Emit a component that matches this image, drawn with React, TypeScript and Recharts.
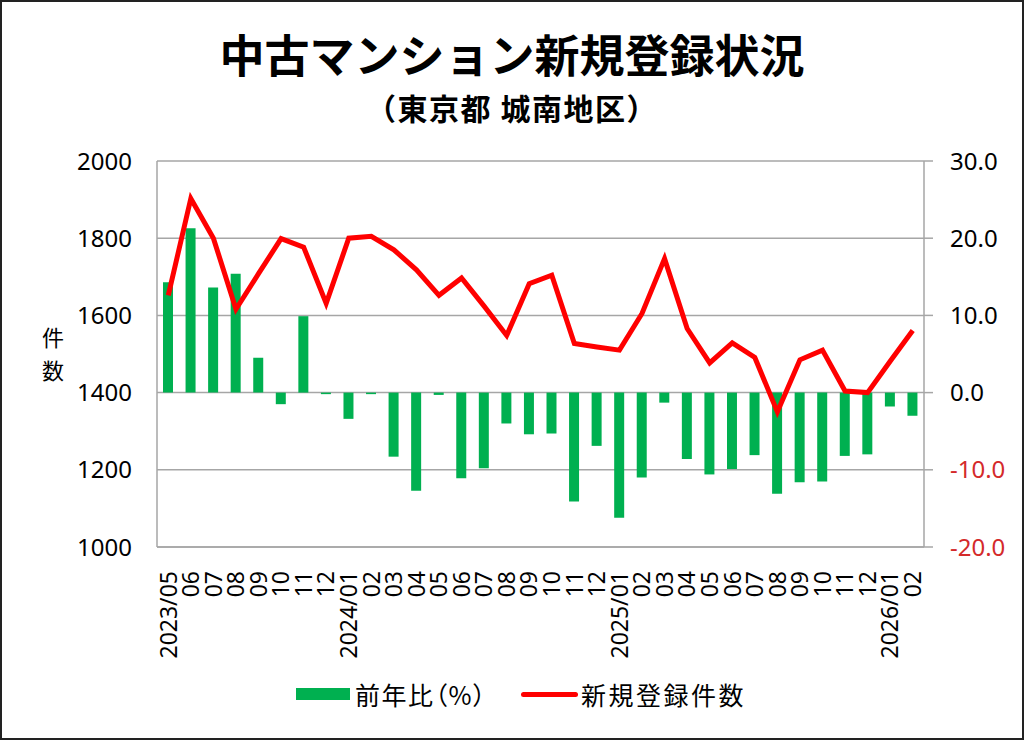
import { Bar, CartesianGrid, ComposedChart, Legend, Line, XAxis, YAxis } from "recharts"

const months = [
  "2023/05", "2023/06", "2023/07", "2023/08", "2023/09", "2023/10", "2023/11", "2023/12",
  "2024/01", "2024/02", "2024/03", "2024/04", "2024/05", "2024/06", "2024/07", "2024/08",
  "2024/09", "2024/10", "2024/11", "2024/12", "2025/01", "2025/02", "2025/03", "2025/04",
  "2025/05", "2025/06", "2025/07", "2025/08", "2025/09", "2025/10", "2025/11", "2025/12",
  "2026/01", "2026/02",
]

const tickLabels = [
  "2023/05", "06", "07", "08", "09", "10", "11", "12",
  "2024/01", "02", "03", "04", "05", "06", "07", "08",
  "09", "10", "11", "12", "2025/01", "02", "03", "04",
  "05", "06", "07", "08", "09", "10", "11", "12",
  "2026/01", "02",
]

// 新規登録件数 (left axis)
const newListings = [
  1652, 1903, 1800, 1616, 1708, 1799, 1777, 1631,
  1800, 1805, 1770, 1718, 1652, 1697, 1624, 1548,
  1682, 1704, 1527, 1518, 1510, 1605, 1747, 1566,
  1477, 1529, 1491, 1350, 1485, 1510, 1404, 1400,
  1481, 1561,
]

// 前年比(%) (right axis)
const yoy = [
  14.3, 21.3, 13.6, 15.4, 4.5, -1.5, 9.9, -0.2,
  -3.4, -0.2, -8.3, -12.7, -0.3, -11.1, -9.8, -4.0,
  -5.4, -5.3, -14.1, -6.9, -16.2, -11.0, -1.3, -8.6,
  -10.6, -9.9, -8.1, -13.1, -11.6, -11.5, -8.2, -8.0,
  -1.8, -3.0,
]

const leftTicks = [1000, 1200, 1400, 1600, 1800, 2000]
const rightTicks = [-20, -10, 0, 10, 20, 30]

const data = months.map((m, i) => ({
  month: m,
  label: tickLabels[i],
  count: newListings[i],
  yoy: yoy[i],
}))

const FONT = "'Noto Sans', 'Noto Sans CJK JP', sans-serif"
const CJK = "'Noto Sans CJK JP', 'Noto Sans', sans-serif"
const GREEN = "#00b050"
const RED = "#ff0000"
const GRID = "#a6a6a6"

function MonthTick(props: any) {
  const { x, y, index } = props
  return (
    <text
      x={x}
      y={y + 16}
      transform={`rotate(-90, ${x}, ${y + 16})`}
      textAnchor="end"
      dy="0.36em"
      fontSize={23}
      fontFamily={FONT}
      fill="#000"
    >
      {tickLabels[index]}
    </text>
  )
}

function RightTick(props: any) {
  const { x, y, payload } = props
  const v = payload.value as number
  return (
    <text
      x={x}
      y={y}
      dy="0.36em"
      textAnchor="start"
      fontSize={24}
      fontFamily={FONT}
      fill={v < 0 ? "#d42a2a" : "#000"}
    >
      {v.toFixed(1)}
    </text>
  )
}

function LegendBox() {
  return (
    <div
      style={{
        display: "flex",
        alignItems: "center",
        paddingLeft: 296,
        height: 32,
        fontFamily: CJK,
        fontSize: 25,
        letterSpacing: 1.5,
        fontFeatureSettings: '"palt"',
        color: "#000",
      }}
    >
      <span style={{ display: "inline-block", width: 54, height: 12, background: GREEN, marginRight: 5 }} />
      <span>前年比（%）</span>
      <span
        style={{
          display: "inline-block",
          width: 57,
          height: 5,
          borderRadius: 3,
          background: RED,
          marginLeft: 34,
          marginRight: 3,
        }}
      />
      <span style={{ letterSpacing: 2.5 }}>新規登録件数</span>
    </div>
  )
}

export default function App() {
  return (
    <div
      style={{
        position: "absolute",
        left: 0,
        top: 0,
        width: 1024,
        height: 740,
        background: "#fff",
      }}
    >
      <div
        style={{
          position: "absolute",
          left: 0,
          top: 24,
          width: 1024,
          textAlign: "center",
          fontFamily: CJK,
          fontWeight: 700,
          fontSize: 45,
          lineHeight: "60px",
          color: "#000",
        }}
      >
        中古マンション新規登録状況
      </div>
      <div
        style={{
          position: "absolute",
          left: 0,
          top: 88,
          width: 1024,
          textAlign: "center",
          fontFamily: CJK,
          fontWeight: 700,
          fontSize: 30,
          letterSpacing: 1.5,
          lineHeight: "38px",
          color: "#000",
        }}
      >
        （東京都 城南地区）
      </div>
      <div
        style={{
          position: "absolute",
          left: 38,
          top: 321,
          width: 30,
          textAlign: "center",
          fontFamily: CJK,
          fontSize: 22,
          lineHeight: "30px",
          color: "#000",
        }}
      >
        件
      </div>
      <div
        style={{
          position: "absolute",
          left: 38,
          top: 354,
          width: 30,
          textAlign: "center",
          fontFamily: CJK,
          fontSize: 22,
          lineHeight: "30px",
          color: "#000",
        }}
      >
        数
      </div>
      <ComposedChart
        width={1024}
        height={740}
        data={data}
        margin={{ top: 161, right: 0, bottom: 73, left: 0 }}
        style={{ position: "absolute", left: 0, top: 0 }}
      >
        <CartesianGrid yAxisId="left" vertical={false} stroke={GRID} strokeWidth={1.5} />
        <XAxis
          dataKey="month"
          height={120}
          interval={0}
          axisLine={{ stroke: GRID, strokeWidth: 1.5 }}
          tickLine={false}
          tick={<MonthTick />}
        />
        <YAxis
          yAxisId="left"
          orientation="left"
          width={157}
          domain={[1000, 2000]}
          ticks={leftTicks}
          interval={0}
          axisLine={{ stroke: GRID, strokeWidth: 1.5 }}
          tickLine={false}
          tickSize={6}
          tickMargin={19}
          tick={{ fontSize: 24, fontFamily: FONT, fill: "#000" }}
        />
        <YAxis
          yAxisId="right"
          orientation="right"
          width={100}
          domain={[-20, 30]}
          ticks={rightTicks}
          interval={0}
          axisLine={{ stroke: GRID, strokeWidth: 1.5 }}
          tickLine={{ stroke: GRID, strokeWidth: 1.5 }}
          tickSize={9}
          tickMargin={17}
          tick={<RightTick />}
        />
        <Bar
          yAxisId="right"
          dataKey="yoy"
          name="前年比（%）"
          fill={GREEN}
          barSize={10}
          isAnimationActive={false}
        />
        <Line
          yAxisId="left"
          dataKey="count"
          name="新規登録件数"
          type="linear"
          stroke={RED}
          strokeWidth={5}
          dot={false}
          activeDot={false}
          isAnimationActive={false}
        />
        <Legend
          layout="horizontal"
          verticalAlign="middle"
          align="center"
          content={<LegendBox />}
          wrapperStyle={{ top: 678, left: 0, width: 1024 }}
        />
      </ComposedChart>
      <div
        style={{
          position: "absolute",
          left: 0,
          top: 0,
          width: 1024,
          height: 740,
          boxSizing: "border-box",
          border: "2px solid #222",
          pointerEvents: "none",
        }}
      />
    </div>
  )
}
